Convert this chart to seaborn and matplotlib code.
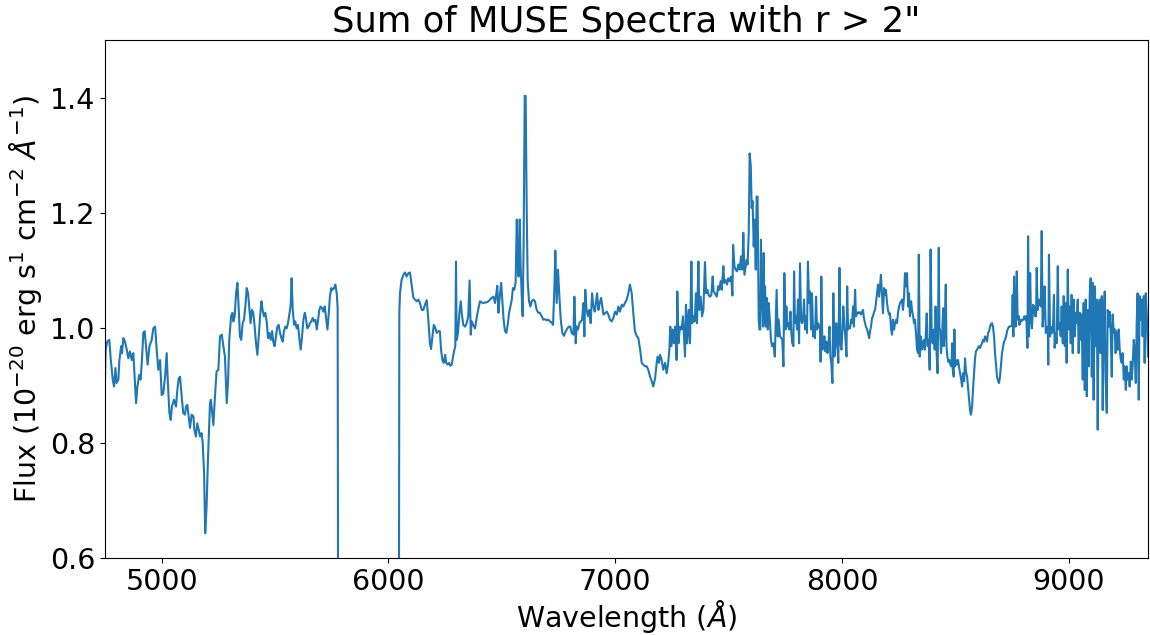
import matplotlib
matplotlib.use("Agg")
import matplotlib.pyplot as plt
import numpy as np
import pandas as pd
import seaborn as sns

# ---- data ----
wave_blue = [4750,4753,4760,4769,4775,4784,4790,4796,4801,4809,4813,4821,4825,4831,4838,4846,4853,4860,4868,4875,
             4879,4887,4893,4901,4907,4913,4919,4925,4931,4938,4946,4956,4963,4971,4978,4985,4993,5000,5007,5015,
             5022,5026,5034,5040,5045,5054,5063,5069,5075,5081,5088,5095,5103,5107,5113,5119,5125,5132,5140,5144,
             5151,5157,5165,5169,5176,5181,5187,5192,5198,5204,5213,5217,5223,5228,5235,5242,5250,
             5257,5265,5272,5279,5287,5293,5298,5306,5312,5316,5322,5328,5334,5340,5345,5351,5357,5363,5369,5375,
             5381,5387,5392,5398,5404,5410,5416,5422,5428,5434,5440,5445,5451,5457,5463,5469,5475,5481,5487,5492,
             5498,5504,5510,5516,5522,5528,5534,5539,5545,5551,5557,5563,5569,5573,5578,5584,5589,5595,5601,5607,
             5613,5619,5625,5631,5636,5642,5648,5654,5660,5666,5672,5678,5684,5689,5695,5701,5707,5713,5719,5725,
             5731,5736,5742,5748,5754,5760,5766,5772,5776]
flux_blue = [0.912,0.962,0.976,0.979,0.947,0.910,0.898,0.930,0.904,0.910,0.941,0.968,0.956,0.982,0.976,0.962,0.947,0.959,0.944,0.956,
             0.927,0.869,0.898,0.918,0.910,0.944,0.991,0.994,0.968,0.936,0.968,0.979,0.999,1.002,0.962,0.927,0.944,0.883,0.886,0.915,
             0.956,0.915,0.852,0.840,0.863,0.875,0.863,0.892,0.912,0.915,0.881,0.852,0.849,0.863,0.866,0.846,0.826,0.849,0.846,0.823,
             0.811,0.834,0.820,0.811,0.817,0.799,0.747,0.643,0.689,0.770,0.869,0.875,0.852,0.831,0.881,0.924,0.927,
             0.985,0.988,0.968,0.950,0.869,0.910,0.979,1.020,1.026,1.011,1.020,1.060,1.078,1.031,0.985,0.979,1.008,1.014,1.037,1.069,
             1.060,1.031,1.008,1.031,1.026,1.002,0.973,0.953,0.985,1.020,1.046,1.031,1.020,1.026,1.011,0.982,0.991,0.979,0.994,0.976,
             0.968,0.985,1.002,1.005,0.991,0.982,0.976,0.994,1.002,0.999,1.008,1.023,1.040,1.086,1.031,1.005,1.011,0.999,1.005,0.982,
             0.962,0.985,1.014,1.026,1.017,0.999,1.002,1.008,1.011,1.017,1.011,1.014,0.997,1.011,1.031,1.037,1.034,1.028,1.037,1.017,
             0.997,1.020,1.055,1.069,1.066,1.069,1.075,1.060,1.034]

wave_notch = [5780, 6045]
flux_notch = [0.0, 0.0]

wave_red1 = [6048,6051,6058,6066,6073,6080,6088,6095,6103,6110,6117,6125,6132,6139,6147,6154,6161,6169,6176,6183,
             6188,6194,6200,6205,6213,6220,6227,6232,6238,6244,6250,6255,6261,6267,6273,6279,6285,6291,6295,6298,
             6301,6307,6313,6319,6323,6330,6338,6345,6352,6358,6363,6367,6374,6382,6389,6397,6404,6411,6419,6426,
             6433,6441,6448,6455,6463,6470,6476,6480,6485,6491,6497,6502,6508,6514,6520,6526,6532,6538,6544,6549,
             6555,6561,6566,6570,6574,6579,6583,6588,6592,6596,6601,6605,6610,6614,6620,6626,6632,6639,6646,6654,
             6661,6668,6676,6683,6691,6698,6705,6713,6720,6726,6732,6736,6742,6748,6754,6760,6767,6774,6782,6789,
             6796,6802,6808,6816,6820]
flux_red1 = [1.026,1.060,1.083,1.092,1.096,1.089,1.095,1.096,1.072,1.052,1.049,1.046,1.049,1.043,1.031,1.031,1.040,1.048,1.014,0.973,
             0.963,0.985,1.005,1.002,0.991,0.994,0.994,0.962,0.944,0.939,0.953,0.939,0.936,0.939,0.934,0.936,0.950,0.962,0.968,1.115,
             0.979,0.991,1.026,1.046,1.026,1.005,1.002,1.008,1.020,1.082,0.988,1.011,1.005,0.999,1.017,1.034,1.046,1.044,1.043,1.044,
             1.044,1.046,1.049,1.052,1.054,1.043,1.060,1.073,1.026,1.054,1.078,1.049,1.014,0.994,0.991,1.005,1.026,1.037,1.049,1.069,
             1.066,1.078,1.188,1.124,1.089,1.188,1.107,1.054,1.020,1.141,1.403,1.403,1.199,1.083,1.046,1.037,1.046,1.049,1.046,1.031,
             1.026,1.026,1.020,1.014,1.015,1.013,1.014,1.011,1.009,1.005,1.072,1.134,1.043,1.101,1.054,1.014,0.991,0.986,0.994,0.999,
             1.002,1.002,0.991,0.988,1.054]

wave_red2 = [6826,6830,6836,6842,6848,6854,6860,6864,6868,6874,6880,6886,6892,6898,6904,6910,6915,6920,6926,6932,
             6938,6943,6948,6955,6963,6970,6977,6985,6992,6999,7007,7014,7021,7029,7036,7043,7051,7058,7065,7073,
             7080,7087,7095,7102,7110,7117,7124,7132,7139,7146,7154,7161,7168,7176,7183,7187,7193,7198,7205,7212,
             7220,7227,7234,7239,7243,7248,7254,7259,7265,7271,7274,7279,7286,7293,7299,7308,7312,7318,7324,7330,
             7336,7340,7345,7351,7356,7361,7367,7371,7377,7383,7389,7396,7401,7407,7412,7418,7424,7430,7434,7440,
             7448,7454,7459,7465,7470,7477,7481,7487,7493,7499,7505,7511,7517,7520,7526,7531,7537,7543,7549,7555,
             7561,7565,7570,7576,7580,7584,7589,7593,7598,7602,7606,7611,7615,7620,7624,7628,7633,7636]
flux_red2 = [0.973,1.002,0.997,1.008,1.011,1.014,1.043,0.985,1.066,1.031,1.020,1.031,1.008,1.060,1.037,1.028,1.043,1.060,1.031,1.043,
             1.052,1.037,1.023,1.025,1.028,1.023,1.014,1.011,1.017,1.028,1.023,1.037,1.028,1.040,1.037,1.043,1.049,1.060,1.075,1.060,
             1.025,0.994,0.986,0.982,0.962,0.939,0.936,0.933,0.933,0.927,0.915,0.907,0.898,0.912,0.939,0.950,0.939,0.953,0.944,0.927,
             0.939,0.921,0.939,0.962,1.002,0.968,0.997,0.973,1.002,0.944,1.063,0.973,1.002,0.997,1.020,0.950,1.040,0.973,1.031,0.973,
             1.115,1.008,1.020,1.011,1.060,1.008,1.115,1.031,1.054,1.020,1.031,1.114,1.060,1.066,1.057,1.054,1.057,1.089,1.063,1.060,
             1.054,1.072,1.066,1.081,1.066,1.107,1.078,1.083,1.075,1.086,1.081,1.089,1.056,1.144,1.107,1.101,1.098,1.110,1.101,1.124,
             1.101,1.165,1.092,1.107,1.118,1.110,1.165,1.303,1.281,1.208,1.220,1.141,1.188,1.101,1.228,1.228,1.014,0.997]

wave_red3 = [7640,7643,7646,7649,7652,7655,7658,7661,7664,7668,7673,7677,7683,7687,7692,7698,7704,7708,7712,7717,
             7721,7727,7733,7737,7742,7746,7751,7755,7759,7764,7768,7773,7777,7781,7786,7789,7793,7798,7802,7806,
             7811,7815,7820,7824,7828,7833,7837,7842,7846,7850,7855,7859,7864,7868,7873,7877,7881,7886,7890,7895,
             7899,7903,7906,7909,7914,7918,7923,7927,7931,7936,7940,7945,7949,7953,7958,7962,7967,7971,7975,7980,
             7984,7989,7993,7998,8002,8006,8011,8015,8020,8023,8027,8031,8036,8040,8045,8049,8053,8058,8062,8067,
             8071,8075,8080,8084,8089,8093,8097,8102,8106,8111,8115,8120,8124,8128,8133,8137,8142,8146,8150,8155,
             8159,8164,8168,8172,8177,8181,8186,8190,8194,8199,8203,8208,8212,8217,8221,8225,8230,8234,8239,8243,
             8247,8252,8256,8261,8265,8269,8274,8278,8283,8287,8292,8296,8300,8305,8309,8314,8318,8322,8327,8331,
             8336,8339,8343,8347,8352,8356,8361,8365,8369,8374,8378,8383,8387,8391,8396,8400,8405,8409,8413,8418,
             8422,8427,8430]
flux_red3 = [0.997,1.153,1.031,1.054,1.002,1.130,1.008,1.072,1.002,1.052,0.997,1.043,1.008,0.979,0.968,0.973,0.950,1.008,1.066,0.985,
             1.014,0.985,0.982,0.979,0.933,1.095,0.997,1.037,1.002,1.008,0.997,1.028,0.991,0.973,0.968,1.098,1.008,1.020,0.997,1.049,
             0.973,1.112,1.014,1.008,1.014,1.049,0.997,1.020,0.991,1.115,1.043,1.063,0.997,1.060,0.985,1.002,0.982,1.054,0.997,1.008,
             1.002,0.997,0.941,1.089,0.962,0.973,0.985,0.959,0.976,0.956,0.968,1.002,0.950,0.939,0.904,1.060,0.950,0.968,1.008,0.973,
             0.939,1.104,0.973,0.962,0.997,1.037,1.002,0.985,0.950,1.072,0.997,1.002,0.999,1.014,1.008,1.037,1.002,1.066,1.020,1.025,
             1.027,1.025,1.027,1.023,1.028,1.031,1.017,1.008,1.002,0.997,0.991,0.982,0.994,1.002,1.017,1.020,1.028,1.031,1.043,1.060,
             1.075,1.054,1.072,1.092,1.054,1.025,1.069,1.057,1.066,1.043,1.031,1.023,1.025,0.997,0.988,1.014,0.997,1.008,1.014,1.008,
             1.025,1.037,1.043,1.046,1.049,1.031,1.054,1.095,1.072,1.095,1.037,1.060,1.020,1.046,1.031,1.020,1.008,1.014,0.988,0.962,
             0.956,1.127,0.950,0.985,0.962,0.973,0.979,0.962,0.982,1.025,0.968,0.979,0.927,1.136,0.985,0.973,0.997,0.962,1.037,0.950,
             0.921,1.139,0.997]

wave_red4 = [8433,8437,8442,8446,8449,8453,8458,8461,8465,8469,8474,8478,8483,8486,8489,8493,8496,8499,8503,8508,
             8512,8516,8521,8525,8530,8534,8539,8543,8547,8552,8556,8561,8565,8569,8574,8578,8583,8587,8591,8596,
             8600,8605,8609,8614,8618,8622,8627,8631,8636,8640,8644,8649,8653,8658,8662,8666,8671,8675,8680,8684,
             8689,8693,8697,8702,8706,8711,8715,8719,8724,8728,8733,8737,8741,8746,8750,8753,8756,8759,8762,8766,
             8771,8775,8780,8783,8787,8791,8796,8800,8805,8809,8813,8818,8821,8825,8830,8834,8838,8843,8847,8852,
             8856,8859,8863,8868,8872,8877,8881,8885,8890,8894,8899,8903,8908,8910,8913,8918,8922,8927,8931,8935,
             8938,8943,8947,8952,8956,8960,8965,8969,8974,8978,8983,8987,8991,8996,9000,9005,9009,9013,9018,9022,
             9027,9031,9035,9040,9044,9049,9053,9057,9062,9066,9071,9075,9080,9084,9088,9093,9097,9102,9106,9110,
             9115,9119,9124,9128,9132,9137,9141,9146,9150,9155,9159,9163,9168,9172,9177,9181,9185,9190,9194,9199,
             9203,9207,9212,9216,9221,9225,9230,9234,9238,9243,9247,9252,9256,9260,9265,9269,9274,9278,9282,9287,
             9291,9296,9300,9304,9309,9313,9318,9322,9326,9331,9335,9340,9344,9350]
flux_red4 = [0.997,0.956,0.985,1.034,0.968,0.997,1.075,0.968,0.950,0.941,0.944,0.936,0.933,0.973,0.927,0.915,0.997,0.933,0.944,0.936,
             0.944,0.933,0.921,0.912,0.898,0.921,0.907,0.947,0.924,0.915,0.898,0.875,0.857,0.849,0.863,0.892,0.921,0.947,0.959,0.962,
             0.965,0.968,0.965,0.970,0.973,0.979,0.976,0.985,0.982,0.976,0.991,0.994,1.002,1.007,1.008,1.002,0.985,0.956,0.933,0.915,
             0.907,0.904,0.915,0.939,0.956,0.968,0.976,0.979,0.985,0.994,0.999,1.002,1.002,1.003,1.005,1.057,0.985,1.089,1.031,1.002,
             1.098,1.014,1.020,1.005,1.014,1.011,1.014,1.014,1.020,1.014,1.020,0.965,1.159,0.985,1.095,1.014,0.999,1.040,1.037,1.020,
             1.020,1.104,1.031,1.049,1.043,1.037,1.168,1.002,1.026,1.072,0.991,1.002,0.997,0.936,1.127,0.985,1.002,0.991,1.002,1.057,
             0.965,0.991,0.973,1.107,0.997,1.008,0.985,1.037,0.973,1.055,0.968,1.043,0.939,1.101,0.997,1.037,0.973,1.057,0.956,1.049,
             0.985,1.026,1.008,1.049,0.956,1.026,0.979,1.023,0.910,1.043,0.892,1.049,0.881,1.031,0.933,1.060,1.086,0.915,1.078,0.875,
             1.072,0.968,1.049,0.823,1.037,1.049,0.956,1.055,0.857,1.026,1.063,0.910,0.852,1.031,1.002,1.028,0.997,0.915,1.023,0.991,
             0.997,0.956,0.994,0.962,0.997,0.962,0.944,0.939,0.956,0.910,0.933,0.892,0.933,0.910,0.921,0.898,0.941,0.910,0.933,0.979,
             0.962,0.904,1.008,1.060,0.875,1.055,1.014,1.049,0.985,1.055,0.939,1.060,1.026,0.950]

x_ticks = [5000, 6000, 7000, 8000, 9000]
y_ticks = [0.6, 0.8, 1.0, 1.2, 1.4]
y_tick_labels = ["0.6", "0.8", "1.0", "1.2", "1.4"]

# ---- assemble ----
segments = [(wave_blue, flux_blue), (wave_notch, flux_notch), (wave_red1, flux_red1),
            (wave_red2, flux_red2), (wave_red3, flux_red3), (wave_red4, flux_red4)]
frames = [pd.DataFrame({"wave": w, "flux": f}) for w, f in segments]
df = pd.concat(frames, ignore_index=True)

fs = 20.5
fig, ax = plt.subplots(figsize=(11.5, 6.35), dpi=100)
fig.subplots_adjust(left=0.0913, right=0.9983, top=0.937, bottom=0.1213)

sns.lineplot(data=df, x="wave", y="flux", estimator=None, sort=False,
             color="#1f77b4", linewidth=1.5, ax=ax)

ax.set_xlim(4750, 9350)
ax.set_ylim(0.6, 1.5)
ax.set_xticks(x_ticks)
ax.set_yticks(y_ticks)
ax.set_yticklabels(y_tick_labels)
ax.tick_params(labelsize=fs)
ax.set_xlabel(r"Wavelength ($\AA$)", fontsize=fs, labelpad=1.5)
ax.set_ylabel(r"Flux (10$^{-20}$ erg s$^{1}$ cm$^{-2}$ $\AA^{-1}$)", fontsize=fs)
ax.set_title('Sum of MUSE Spectra with r > 2"', fontsize=25.5)

fig.savefig("out.png", dpi=100)
